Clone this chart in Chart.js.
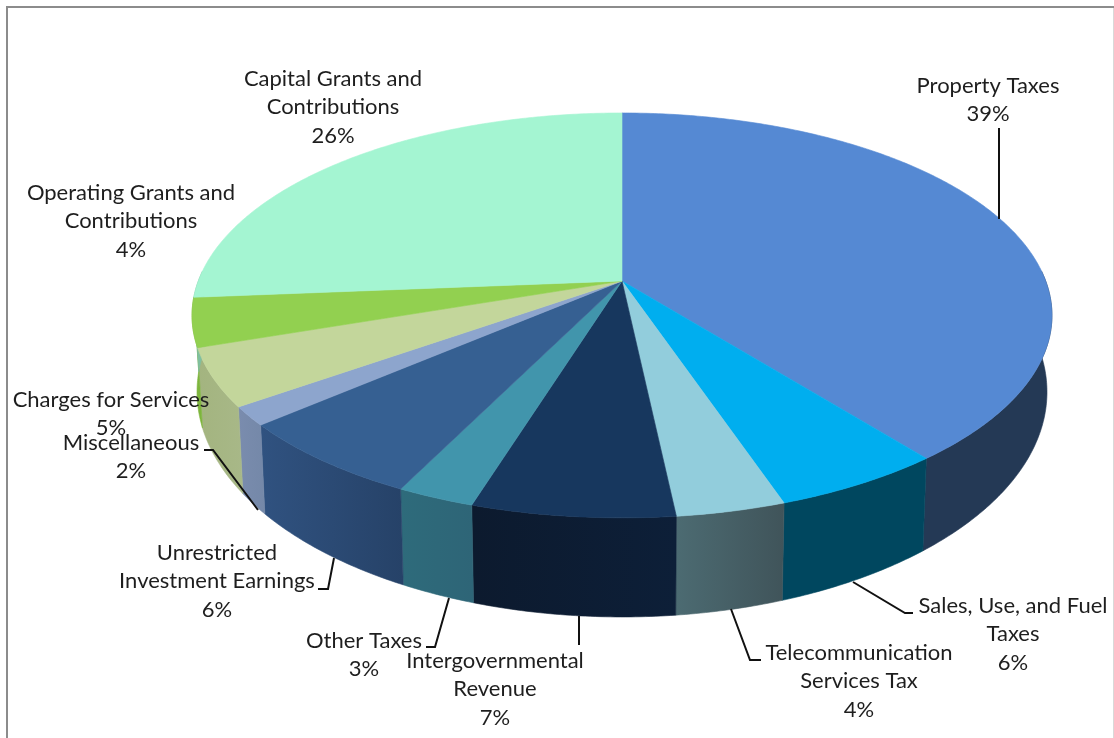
<!DOCTYPE html>
<html>
<head>
<meta charset="utf-8">
<title>Revenues by source</title>
<style>
    html, body { margin: 0; padding: 0; background: #fff; overflow: hidden; }
    canvas { display: block; }
</style>
<script src="https://cdn.jsdelivr.net/npm/chart.js@4/dist/chart.umd.js"></script>
</head>
<body>
<canvas id="myChart" width="1114" height="738"></canvas>
<script>
const categories = [
    'Property Taxes', 'Sales, Use, and Fuel Taxes', 'Telecommunication Services Tax',
    'Intergovernmental Revenue', 'Other Taxes', 'Unrestricted Investment Earnings',
    'Miscellaneous', 'Charges for Services', 'Operating Grants and Contributions',
    'Capital Grants and Contributions'
];
// shares of total revenue, the labels show them rounded to whole percents
const shares = [39.3, 5.5, 3.5, 6.5, 2.5, 6.4, 1.5, 4.6, 3.9, 26.3];

const topColors = ['#5589D3', '#00AEEF', '#92CDDC', '#17375E', '#4195AC', '#366092', '#8DA5CD', '#C3D69B', '#92D050', '#A4F5D2'];
// left and right shade of each slice's outer wall
const wallColors = [
    ['#243955', '#243955'], ['#00475F', '#00475F'], ['#4C6B72', '#40545A'], ['#0C1A2E', '#0D1F38'],
    ['#2E6B7B', '#2E6577'], ['#305280', '#264268'], ['#7A8CAE', '#7488A8'], ['#A3B47F', '#A8B888'],
    ['#7DB53C', '#7DB53C'], ['#7FBFA0', '#7FBFA0']
];

// label lines broken the way they are set on the page, the percent goes below them
const labelLines = [
    ['Property Taxes'], ['Sales, Use, and Fuel', 'Taxes'], ['Telecommunication', 'Services Tax'],
    ['Intergovernmental', 'Revenue'], ['Other Taxes'], ['Unrestricted', 'Investment Earnings'],
    ['Miscellaneous'], ['Charges for Services'], ['Operating Grants and', 'Contributions'],
    ['Capital Grants and', 'Contributions']
];
const labelCenters = [[988, 86], [1013, 606], [859, 653], [495, 661], [364, 641], [217, 553], [131, 443], [111, 400], [131, 193], [333, 79]];
const leaderLines = [
    [[999, 128], [999, 219]],
    [[853, 582], [905, 613], [913, 613]],
    [[731, 609], [750, 660], [761, 660]],
    [[579, 616], [579, 645]],
    [[449, 598], [435, 647], [426, 647]],
    [[334, 558], [328, 589], [318, 589]],
    [[258, 510], [213, 450], [204, 450]],
    [], [], []
];

// perspective discs for the top face and the base of the pie
const CX = 622;
const TILT = 0.17;
const TOP_DISC = { rx: 423.7, ry: 196.6, ay: 281 };
const BASE_DISC = { rx: 418.8, ry: 218.5, ay: 353.7 };
const LINE_HEIGHT = 28.3;

// arc angles start at -PI/2 for the top of the pie
const project = (disc, angle) => {
    const u = Math.cos(angle);
    const v = -Math.sin(angle);
    const w = 1 + TILT * v;
    return [CX + disc.rx * u / w, disc.ay - disc.ry * v / w];
};

const rimPoints = (disc, start, end) => {
    const steps = Math.max(2, Math.ceil((end - start) / 0.01));
    const pts = [];
    for (let i = 0; i <= steps; i++) {
        pts.push(project(disc, start + (end - start) * i / steps));
    }
    return pts;
};

const fillPolygon = (ctx, pts, fill) => {
    ctx.beginPath();
    pts.forEach((p, i) => i ? ctx.lineTo(p[0], p[1]) : ctx.moveTo(p[0], p[1]));
    ctx.closePath();
    ctx.fillStyle = fill;
    ctx.strokeStyle = fill;
    ctx.lineWidth = 0.6;
    ctx.fill();
    ctx.stroke();
};

const pie3d = {
    id: 'pie3d',
    beforeDraw(chart) {
        const ctx = chart.ctx;
        ctx.save();
        ctx.fillStyle = '#fff';
        ctx.fillRect(0, 0, chart.width, chart.height);
        ctx.strokeStyle = '#8C8C8C';
        ctx.lineWidth = 2;
        ctx.beginPath();
        ctx.moveTo(7, 738);
        ctx.lineTo(7, 7);
        ctx.lineTo(1114, 7);
        ctx.stroke();
        ctx.strokeStyle = '#D9D9D9';
        ctx.lineWidth = 1;
        ctx.beginPath();
        ctx.moveTo(1113.5, 8);
        ctx.lineTo(1113.5, 738);
        ctx.stroke();
        ctx.restore();
    },
    // the arcs are laid out by the pie controller, only their painting is replaced
    beforeDatasetsDraw(chart) {
        const ctx = chart.ctx;
        const arcs = chart.getDatasetMeta(0).data;
        ctx.save();
        arcs.forEach((arc, i) => {
            // only the front half of the wall can be seen
            const start = Math.max(arc.startAngle, -0.05);
            const end = Math.min(arc.endAngle, Math.PI + 0.05);
            if (start >= end) return;
            const top = rimPoints(TOP_DISC, start, end);
            const base = rimPoints(BASE_DISC, start, end);
            const xs = top.concat(base).map(p => p[0]);
            const grad = ctx.createLinearGradient(Math.min(...xs), 0, Math.max(...xs), 0);
            grad.addColorStop(0, wallColors[i][0]);
            grad.addColorStop(1, wallColors[i][1]);
            fillPolygon(ctx, top.concat(base.reverse()), grad);
        });
        arcs.forEach((arc) => {
            const pts = rimPoints(TOP_DISC, arc.startAngle, arc.endAngle);
            pts.push([CX, TOP_DISC.ay]);
            fillPolygon(ctx, pts, arc.options.backgroundColor);
        });
        ctx.restore();
        return false;
    },
    afterDraw(chart) {
        const ctx = chart.ctx;
        ctx.save();
        ctx.strokeStyle = '#111';
        ctx.lineWidth = 2;
        leaderLines.forEach((line) => {
            if (!line.length) return;
            ctx.beginPath();
            line.forEach((p, i) => i ? ctx.lineTo(p[0], p[1]) : ctx.moveTo(p[0], p[1]));
            ctx.stroke();
        });
        ctx.font = '22px Lato';
        ctx.fillStyle = '#1E1E1E';
        ctx.textAlign = 'center';
        ctx.textBaseline = 'middle';
        labelLines.forEach((lines, i) => {
            const [x, y] = labelCenters[i];
            lines.concat(Math.round(shares[i]) + '%').forEach((text, n) => {
                ctx.fillText(text, x, y + n * LINE_HEIGHT);
            });
        });
        ctx.restore();
    }
};

new Chart(document.getElementById('myChart'), {
    type: 'pie',
    data: {
        labels: categories,
        datasets: [{
            data: shares,
            backgroundColor: topColors,
            borderWidth: 0
        }]
    },
    options: {
        responsive: false,
        animation: false,
        rotation: 0,
        plugins: {
            legend: { display: false },
            tooltip: { enabled: false }
        }
    },
    plugins: [pie3d]
});
</script>
</body>
</html>
